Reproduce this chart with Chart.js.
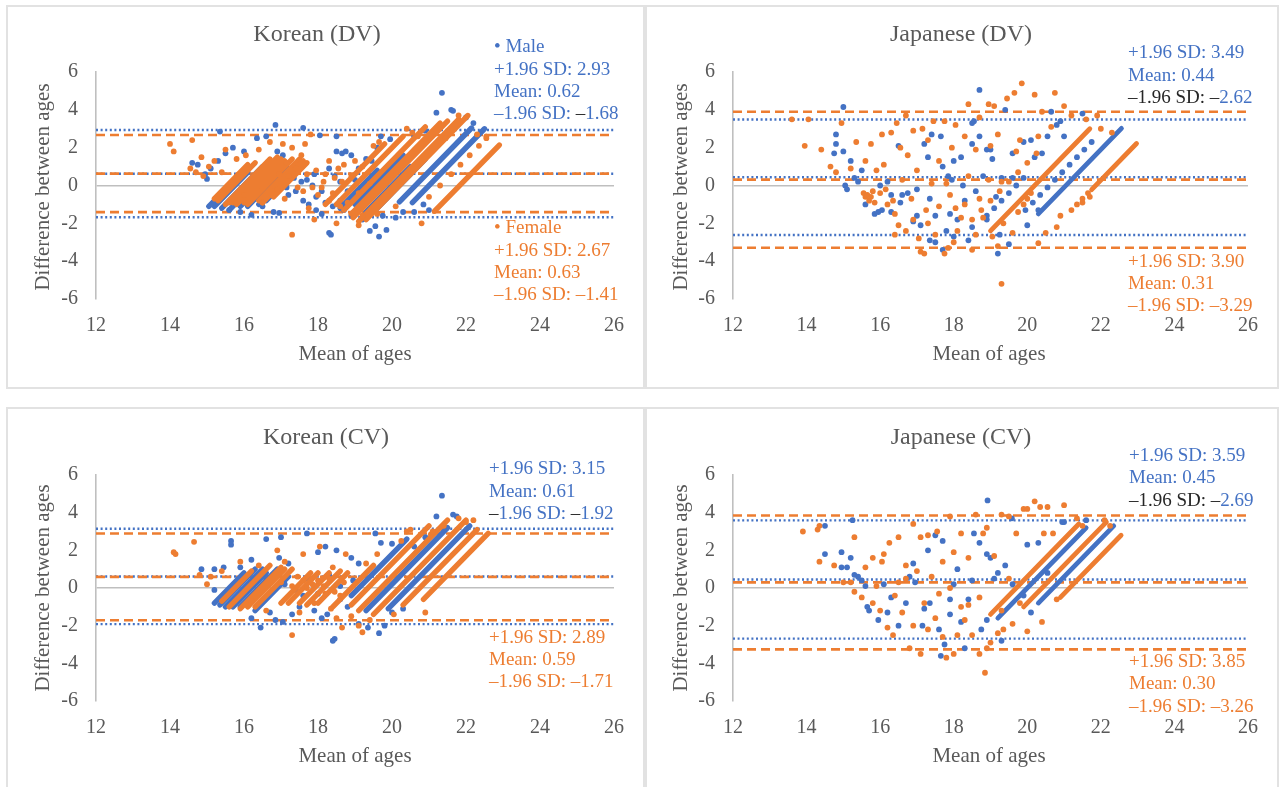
<!DOCTYPE html>
<html>
<head>
<meta charset="utf-8">
<script src="https://cdn.jsdelivr.net/npm/chart.js@4.4.1/dist/chart.umd.min.js"></script>
<style>
  body { margin: 0; background: #fff; width: 1283px; height: 787px; position: relative; overflow: hidden; }
  .panel { position: absolute; border: 2px solid #e2e2e2; box-sizing: border-box; }
  canvas { position: absolute; }
</style>
</head>
<body>
<div class="panel" style="left:6px;top:5px;width:639px;height:384px"></div>
<div class="panel" style="left:645px;top:5px;width:634px;height:384px"></div>
<div class="panel" style="left:6px;top:407px;width:639px;height:382px"></div>
<div class="panel" style="left:645px;top:407px;width:634px;height:382px"></div>
<canvas id="kdv"></canvas>
<canvas id="jdv"></canvas>
<canvas id="kcv"></canvas>
<canvas id="jcv"></canvas>
<script>
// axes
const xTicks = [12, 14, 16, 18, 20, 22, 24, 26];
const yTicks = [-6, -4, -2, 0, 2, 4, 6];

// limits of agreement: [+1.96 SD, mean, -1.96 SD]
const kdvMaleLimits = [2.93, 0.62, -1.68];
const kdvFemaleLimits = [2.67, 0.63, -1.41];
const jdvMaleLimits = [3.49, 0.44, -2.62];
const jdvFemaleLimits = [3.90, 0.31, -3.29];
const kcvMaleLimits = [3.15, 0.61, -1.92];
const kcvFemaleLimits = [2.89, 0.59, -1.71];
const jcvMaleLimits = [3.59, 0.45, -2.69];
const jcvFemaleLimits = [3.85, 0.30, -3.26];

// dense runs of overlapping points [x1, y1, x2, y2]
const kdvMaleRuns = [
  [20.55, -0.9, 22.5, 3.0], [20.2, -0.86, 22.15, 3.04], [19.55, -1.3, 20.9, 1.4], [19.0, -1.0, 20.3, 1.6],
  [19.3, -1.4, 20.5, 1.0], [18.6, -1.2, 19.6, 0.8],
  [15.05, -1.1, 15.9, 0.6], [15.4, -1.2, 16.5, 1.0], [15.9, -1.1, 16.9, 0.9], [16.4, -1.0, 17.3, 0.8],
  [15.2, -1.1, 16.1, 0.7], [15.6, -1.3, 16.7, 0.9], [16.1, -1.1, 17.1, 0.9], [16.6, -0.8, 17.4, 0.8]
];
const kdvFemaleRuns = [
  [21.15, -1.36, 22.9, 2.14], [19.3, -1.8, 22.05, 3.7], [18.95, -1.7, 21.5, 3.4], [18.7, -1.3, 20.9, 3.1],
  [18.5, -1.0, 20.3, 2.6], [18.2, -1.0, 19.8, 2.2], [19.1, -1.9, 21.8, 3.5], [18.9, -1.5, 21.3, 3.3],
  [15.3, -0.8, 16.3, 1.2], [15.5, -1.0, 16.7, 1.4], [15.8, -1.0, 17.0, 1.4], [16.1, -1.0, 17.3, 1.4],
  [16.5, -0.9, 17.6, 1.3], [15.2, -0.7, 16.1, 1.1], [15.7, -0.9, 16.9, 1.5], [16.0, -0.9, 17.1, 1.3],
  [16.4, -0.8, 17.5, 1.4], [16.8, -0.6, 17.7, 1.2]
];
const jdvMaleRuns = [[20.3, -1.5, 22.56, 3.02]];
const jdvFemaleRuns = [[21.75, -0.22, 22.97, 2.22], [19.0, -2.4, 21.7, 3.0]];
const kcvMaleRuns = [
  [19.9, -1.1, 22.1, 3.3], [19.3, -1.2, 21.5, 3.2], [18.9, -0.4, 20.4, 2.6],
  [15.2, -0.8, 16.0, 0.8], [15.5, -1.0, 16.5, 1.0], [15.9, -1.0, 16.9, 1.0],
  [15.35, -0.9, 16.3, 1.0], [15.7, -1.0, 16.6, 0.8], [16.3, -1.2, 17.2, 0.6]
];
const kcvFemaleRuns = [
  [20.85, -0.6, 22.6, 2.9], [20.3, -0.9, 22.3, 3.1], [19.5, -1.4, 22.0, 3.6], [19.1, -1.2, 21.5, 3.6],
  [18.9, -0.9, 21.0, 3.3], [15.4, -0.7, 16.2, 0.9], [15.6, -1.0, 16.7, 1.2], [15.9, -1.1, 17.0, 1.1],
  [16.3, -1.0, 17.3, 1.0], [17.0, -0.8, 17.8, 0.8], [17.5, -0.8, 18.3, 0.8], [18.0, -0.8, 18.8, 0.8],
  [17.2, -0.8, 18.0, 0.8], [17.7, -0.9, 18.6, 0.9], [18.4, -1.0, 19.5, 1.2], [16.1, -1.0, 17.1, 1.0]
];
const jcvMaleRuns = [[20.3, -0.8, 22.35, 3.3], [19.2, -1.6, 21.6, 3.2]];
const jcvFemaleRuns = [[20.9, -0.5, 22.55, 2.8], [19.9, -1.0, 22.15, 3.5], [19.0, -1.4, 21.4, 3.4]];

// single points [mean of ages, difference]
const kdvMale = [
  [15.35, 2.85], [16.85, 3.2], [17.6, 3.05], [18.05, 2.65], [18.5, 2.6], [19.7, 2.6], [19.95, 2.45], [20.9, 2.9],
  [21.2, 3.85], [21.35, 4.9], [21.6, 4.0], [21.65, 3.95], [22.0, 3.6], [22.2, 3.3], [20.6, 2.6],
  [14.6, 1.2], [14.75, 1.1], [14.95, 0.6], [15.0, 0.35], [15.1, 0.9], [15.3, 1.3], [15.5, 1.7], [15.7, 2.0],
  [16.0, 1.8], [16.35, 2.5], [16.6, 2.6], [16.9, 1.8], [17.05, 1.6], [17.2, 0.9], [17.35, 0.4], [17.5, 1.0],
  [17.7, 0.3], [17.85, 0.0], [17.9, 0.6], [18.1, -0.3], [18.3, 0.9], [18.5, 1.8], [18.65, 1.7], [18.75, 1.8],
  [18.9, 1.6], [18.6, 0.2], [18.8, -0.3], [19.1, 0.9], [19.3, 1.4], [19.45, 1.3], [19.6, 2.0],
  [15.6, -1.3], [15.9, -1.4], [16.2, -1.55], [16.5, -1.1], [16.8, -1.4], [16.95, -1.45], [17.2, -0.5],
  [17.4, -0.3], [17.6, -0.8], [17.75, -1.0], [17.95, -1.3], [18.1, -1.5], [18.35, -2.6], [18.3, -2.5],
  [18.4, -1.1], [18.6, -0.8], [18.9, -1.6], [19.1, -1.2], [19.4, -2.4], [19.55, -2.15], [19.65, -2.7],
  [19.85, -2.35], [19.75, -1.6], [20.1, -1.7], [20.3, -1.4], [20.6, -1.4], [20.85, -1.0], [21.0, -1.3], [19.2, -1.8],
  [17.0, 0.4], [17.15, -0.1], [17.55, 0.2], [17.95, -0.6], [18.2, -0.9], [18.45, 0.5], [18.7, -1.3], [19.0, 0.3],
  [19.3, -0.3], [15.8, 0.2], [16.1, -0.6], [16.7, 0.0]
];
const kdvFemale = [
  [14.0, 2.2], [14.1, 1.8], [14.6, 2.4], [14.55, 0.9], [14.7, 0.7], [14.85, 1.5], [14.9, 0.5], [15.05, 1.0],
  [15.2, 1.3], [15.4, 0.7], [15.5, 1.9], [15.8, 1.4], [16.05, 1.6], [16.4, 1.9], [16.7, 2.3], [17.05, 2.2],
  [17.3, 2.0], [17.55, 1.6], [17.65, 2.2], [17.8, 2.7], [17.95, 0.8], [18.2, 0.6], [18.3, 1.3], [18.45, 0.4],
  [18.55, 0.9], [18.7, 1.1], [19.0, 1.3], [19.2, 1.0], [19.5, 2.1], [19.65, 2.3], [20.4, 3.0], [20.55, 2.8],
  [20.7, 2.6], [21.45, 2.5], [21.8, 3.7], [22.3, 2.7], [22.55, 2.6],
  [15.6, -0.9], [16.0, -0.5], [16.5, -0.9], [16.9, -0.2], [17.1, -0.7], [17.3, -2.6], [17.45, -0.1],
  [17.6, -0.3], [17.75, -1.2], [17.9, -1.8], [18.0, -0.5], [18.15, 0.2], [18.3, -0.8], [18.5, -2.0],
  [18.6, -1.1], [18.8, -0.9], [19.1, -2.1], [19.2, -1.6], [19.6, -1.5], [20.1, -1.1], [20.8, -2.0],
  [21.0, -0.6], [21.3, 0.0], [21.6, 0.6], [21.85, 1.1], [22.1, 1.6], [22.35, 2.1], [22.55, 2.5],
  [17.2, 0.5], [17.4, 0.9], [17.7, 0.6], [17.85, -0.1], [18.1, -0.1], [18.4, -0.4], [18.65, 0.2], [18.9, 0.5],
  [19.1, -0.4], [19.4, 0.1], [17.15, 1.2], [16.95, 0.6]
];
const jdvMale = [
  [15.0, 4.15], [18.7, 5.05], [19.4, 4.0], [21.5, 3.8], [20.65, 3.9], [14.8, 2.7], [14.8, 2.2], [14.75, 1.7],
  [15.0, 1.8], [15.2, 1.3], [15.05, 0.0], [15.1, -0.2], [15.3, 0.4], [15.4, 0.2], [15.5, 0.8], [15.6, -1.0],
  [15.85, -1.5], [15.95, -1.4], [16.05, -1.3], [16.2, 0.2], [16.3, -0.5], [16.5, 2.1], [16.6, -0.5],
  [16.75, -0.4], [17.0, -0.2], [17.2, 2.2], [17.3, 1.5], [17.35, -0.7], [17.5, -1.6], [17.4, 2.7],
  [17.65, 2.6], [17.7, 1.0], [17.5, -3.0], [17.7, -3.4], [17.8, -2.4], [17.9, -1.5], [18.0, 1.3],
  [18.1, -1.8], [18.2, 1.5], [18.3, -0.8], [18.4, -2.9], [18.5, 3.3], [18.55, 3.4], [18.5, 2.2], [18.7, 2.6],
  [18.9, 1.9], [19.0, 1.9], [18.9, -1.8], [19.05, 1.4], [19.2, -3.6], [19.3, 0.4], [19.5, -3.1], [19.25, -2.6],
  [19.6, 1.7], [19.9, 2.3], [20.1, 2.4], [20.0, -2.1], [20.2, 1.5], [20.4, 1.7], [20.55, 2.6], [20.8, 3.2],
  [20.9, 3.4], [21.0, 2.6], [16.9, -1.9], [17.0, -1.6], [16.3, -1.4], [16.0, 0.0], [17.85, 0.5], [18.25, 0.0],
  [18.6, -0.3], [18.8, 0.5], [19.15, -0.6], [19.6, 0.4], [20.3, -1.3], [17.1, -2.1], [17.35, -2.9],
  [18.5, -2.2], [18.0, -2.7], [16.55, -0.9], [17.95, 0.3],
  [19.95, -1.3], [20.15, -0.9], [20.35, -0.5], [20.55, -0.1], [20.75, 0.3], [20.95, 0.7], [21.15, 1.1],
  [21.35, 1.5], [21.55, 1.9], [21.75, 2.3],
  [18.9, -1.6], [19.1, -1.2], [19.3, -0.8], [19.5, -0.4], [19.7, 0.0], [19.9, 0.4]
];
const jdvFemale = [
  [13.6, 3.5], [14.05, 3.5], [13.95, 2.1], [14.4, 1.9], [14.65, 1.0], [14.8, 0.7], [14.95, 3.3], [15.35, 2.3],
  [15.6, 1.3], [15.75, 2.2], [15.9, 0.8], [16.05, 2.7], [16.1, 1.1], [16.3, 2.8], [16.45, 3.3], [16.55, 2.0],
  [16.7, 3.7], [16.75, 1.6], [16.9, 2.9], [17.15, 3.0], [17.3, 2.4], [17.45, 3.4], [17.6, 1.3], [17.75, 3.4],
  [17.95, 2.0], [18.05, 3.2], [18.3, 2.6], [18.4, 4.3], [18.6, 1.9], [18.7, 3.6], [18.95, 4.3], [19.1, 4.2],
  [19.2, 2.7], [19.45, 4.6], [19.65, 4.9], [19.85, 5.4], [20.2, 4.8], [20.75, 4.9], [21.0, 4.2], [20.4, 3.9],
  [20.65, 3.1], [20.3, 2.6], [19.8, 2.4], [19.7, 1.8], [19.0, 2.1], [21.2, 3.7], [21.6, 3.5], [21.9, 3.7],
  [22.0, 3.0], [22.3, 2.8],
  [15.6, -0.6], [15.7, -0.8], [15.8, -0.3], [16.0, -0.4], [16.2, -1.0], [16.4, -1.5], [16.5, -2.1],
  [16.7, -2.4], [16.4, -2.6], [16.9, -1.8], [17.05, -2.8], [17.1, -3.5], [17.2, -3.6], [17.3, -2.0],
  [17.5, -2.6], [17.6, -1.1], [17.75, -3.6], [17.85, -3.3], [18.0, -3.0], [18.1, -2.4], [18.2, -1.7],
  [18.3, -1.0], [18.5, -3.4], [18.6, -2.6], [18.8, -1.7], [19.05, -2.7], [19.2, -3.2], [19.3, -5.2],
  [19.35, -2.0], [19.6, -2.5], [19.75, -1.4], [19.9, -1.0], [20.1, -0.4], [20.3, -3.05], [20.5, -2.5],
  [20.8, -2.2], [20.9, -1.6], [21.5, -0.9], [21.7, -0.6], [16.6, 0.3], [17.0, 0.8], [17.4, 0.1], [17.9, -0.5],
  [18.4, 0.5], [18.95, 0.3], [19.3, 0.2], [20.0, -0.7], [15.2, 0.9],
  [15.55, -0.4], [15.65, -0.5], [15.75, -0.6], [15.85, -0.9], [16.15, -0.2], [16.35, -0.8], [17.8, 0.1],
  [18.05, -1.2], [18.7, -0.7], [17.25, -1.3], [16.85, -0.7],
  [21.2, -1.3], [21.35, -1.0], [21.5, -0.7], [21.65, -0.4],
  [18.5, -1.8], [18.75, -1.3], [19.0, -0.8], [19.25, -0.3], [19.5, 0.2], [19.75, 0.7], [20.0, 1.2], [20.25, 1.7]
];
const kcvMale = [
  [21.35, 4.9], [21.2, 3.8], [21.65, 3.9], [21.75, 3.8], [17.7, 2.9], [19.55, 2.9], [16.6, 2.6], [15.65, 2.5],
  [15.65, 2.3], [17.0, 2.7], [20.0, 2.35], [19.7, 2.4], [18.2, 2.2], [18.5, 2.0], [18.0, 1.9], [18.9, 1.6],
  [19.1, 1.3], [16.2, 1.5], [16.95, 1.6], [17.2, 1.3], [14.85, 1.0], [15.2, 1.0], [15.45, 1.1], [15.9, 1.1],
  [16.5, 0.6], [17.7, 0.5], [18.3, 0.7], [18.6, 0.1],
  [16.2, -1.6], [16.45, -2.1], [16.7, -1.3], [16.85, -1.7], [17.05, -1.8], [17.3, -1.4], [17.5, -1.0],
  [17.9, -1.2], [18.1, -1.6], [18.25, -1.4], [18.45, -2.7], [18.4, -2.8], [18.8, -1.0], [19.1, -1.9],
  [19.35, -2.1], [19.65, -2.4], [19.8, -2.0], [20.0, -1.3], [20.3, -1.1], [17.6, -0.4], [18.6, -0.6],
  [15.2, -0.1], [15.4, -0.5], [17.1, 0.2], [17.4, -0.1], [18.0, -0.3], [18.95, 0.4], [20.6, 2.2], [20.9, 2.7],
  [21.1, 2.9], [21.4, 3.1]
];
const kcvFemale = [
  [14.1, 1.9], [14.15, 1.8], [14.65, 2.45], [14.8, 0.7], [15.0, 0.2], [15.1, 0.6], [15.4, 0.9], [15.9, 1.4],
  [16.4, 1.2], [16.9, 2.0], [17.1, 1.4], [17.6, 1.8], [18.05, 2.2], [18.4, 1.1], [18.75, 1.8], [19.3, 1.3],
  [19.6, 1.8], [20.4, 3.0], [20.5, 3.1], [20.25, 2.5], [21.05, 2.85], [21.1, 3.0], [21.4, 3.3], [21.8, 3.7],
  [22.0, 3.5], [22.2, 3.6],
  [17.3, -2.5], [17.5, -1.3], [17.9, -0.8], [18.2, -0.3], [18.35, -1.1], [18.5, -1.6], [18.65, -2.1],
  [18.9, -1.5], [19.1, -2.0], [19.2, -2.35], [19.4, -1.7], [20.05, -1.4], [20.9, -1.3], [17.0, 0.3],
  [17.3, 0.1], [17.7, 0.0], [18.0, 0.4], [18.7, 0.3], [16.2, -0.7], [16.6, -1.2], [17.6, 0.4], [17.85, 0.2],
  [18.15, 0.1], [18.45, -0.2], [17.45, 0.6], [18.3, 0.5], [18.6, -0.4]
];
const jcvMale = [
  [18.92, 4.65], [19.58, 3.7], [20.95, 3.5], [21.0, 3.5], [21.6, 3.6], [14.5, 3.3], [15.25, 3.6], [14.5, 1.8],
  [14.95, 1.9], [15.2, 1.6], [14.95, 1.1], [15.1, 1.1], [15.3, 0.7], [15.5, 0.4], [15.6, 0.1], [15.65, -1.0],
  [15.7, -1.2], [15.95, -1.7], [16.2, -1.3], [16.3, -0.5], [16.5, -2.0], [16.7, -0.8], [16.8, 0.6],
  [16.9, 1.3], [17.15, -2.0], [17.3, 2.0], [17.5, 2.8], [17.7, 2.5], [17.35, -0.8], [17.6, -2.2],
  [17.75, -3.0], [17.9, -1.4], [17.65, -3.6], [18.0, 0.2], [18.1, 1.0], [18.2, -1.8], [18.3, -3.2],
  [18.4, -0.6], [18.55, 2.9], [18.7, 2.4], [18.75, -2.2], [18.9, 1.8], [19.0, 1.6], [19.1, 0.5], [19.3, -2.8],
  [19.4, 1.2], [19.6, 0.2], [19.9, -0.4], [20.0, 2.3], [20.1, -1.3], [20.3, 2.4], [20.55, 0.8], [17.9, -0.6],
  [16.95, 0.3], [18.5, 0.4], [15.4, 0.6], [16.1, 0.2], [17.2, -1.1], [18.9, -1.7], [19.2, 0.8]
];
const jcvFemale = [
  [13.9, 3.0], [14.3, 3.1], [14.35, 3.3], [14.35, 1.4], [14.75, 1.2], [15.0, 0.3], [15.2, 0.3], [15.3, 2.7],
  [15.6, 1.1], [15.8, 1.6], [16.05, 1.4], [16.1, 1.8], [16.25, 2.4], [16.5, 2.7], [16.7, 1.2], [16.9, 3.4],
  [17.0, 0.9], [17.1, 2.7], [17.3, 2.8], [17.55, 3.0], [17.7, 1.4], [17.9, 3.8], [18.0, 1.9], [18.2, 2.9],
  [18.4, 1.6], [18.6, 3.9], [18.8, 2.9], [18.9, 3.2], [19.1, 1.7], [19.3, 3.9], [19.5, 3.8], [19.7, 2.9],
  [19.9, 4.2], [20.0, 4.2], [20.2, 4.6], [20.35, 4.3], [20.55, 4.3], [20.45, 2.9], [21.0, 4.4], [20.7, 2.9],
  [21.35, 3.7], [21.5, 3.3], [22.1, 3.6], [22.25, 3.3],
  [15.3, -0.2], [15.5, -0.5], [15.8, -0.8], [16.0, -1.2], [16.2, -2.1], [16.35, -2.5], [16.6, -1.3],
  [16.8, -3.2], [16.9, -2.0], [17.1, -3.5], [17.3, -2.2], [17.5, -1.6], [17.7, -2.6], [17.8, -3.7],
  [18.0, -3.5], [18.1, -2.5], [18.3, -1.7], [18.5, -2.5], [18.7, -3.5], [18.85, -4.5], [18.9, -3.2],
  [19.0, -2.9], [19.2, -2.4], [19.35, -2.2], [19.6, -1.9], [20.0, -2.3], [20.4, -1.8], [20.8, -0.6],
  [16.5, 0.3], [17.2, -0.8], [17.9, 0.0], [18.7, -0.5], [19.5, 0.5], [19.8, -0.8], [15.9, 0.1], [16.4, -0.4],
  [17.6, -0.3], [18.2, -1.0], [18.4, -0.9], [19.3, -1.2], [16.7, 0.5], [17.4, 0.6]
];

const BLUE = '#4472C4';
const ORANGE = '#ED7D31';
const DARK = '#262626';
const GREY = '#595959';
const AXIS = '#bfbfbf';
const SERIF = '"Liberation Serif", "Times New Roman", serif';

function num(v) {
  return (v < 0 ? '\u2013' : '') + Math.abs(v).toFixed(2);
}

function noteLines(limits, color, header, lowerStyle) {
  const lines = [];
  if (header) lines.push([['\u2022 ' + header, color]]);
  lines.push([['+1.96 SD: ' + num(limits[0]), color]]);
  lines.push([['Mean: ' + num(limits[1]), color]]);
  const v = Math.abs(limits[2]).toFixed(2);
  if (lowerStyle === 'a') lines.push([['\u20131.96 SD: ', color], ['\u2013', DARK], [v, color]]);
  else if (lowerStyle === 'b') lines.push([['\u20131.96 SD: \u2013', DARK], [v, color]]);
  else if (lowerStyle === 'c') lines.push([['\u2013', DARK], ['1.96 SD: ', color], ['\u2013', DARK], [v, color]]);
  else lines.push([['\u20131.96 SD: \u2013' + v, color]]);
  return lines;
}

const panelText = {
  id: 'panelText',
  afterDraw(chart, args, o) {
    const ctx = chart.ctx;
    ctx.save();
    ctx.textBaseline = 'middle';
    ctx.fillStyle = GREY;
    ctx.textAlign = 'center';
    ctx.font = '24px ' + SERIF;
    ctx.fillText(o.title, o.titleAt[0], o.titleAt[1]);
    ctx.font = '21px ' + SERIF;
    ctx.fillText('Mean of ages', o.xTitleAt[0], o.xTitleAt[1]);
    ctx.save();
    ctx.translate(o.yTitleAt[0], o.yTitleAt[1]);
    ctx.rotate(-Math.PI / 2);
    ctx.fillText('Difference between ages', 0, 0);
    ctx.restore();
    ctx.textAlign = 'left';
    ctx.font = '19px ' + SERIF;
    o.notes.forEach((block) => {
      block.lines.forEach((segs, i) => {
        let x = o.noteX;
        segs.forEach(([t, c]) => {
          ctx.fillStyle = c;
          ctx.fillText(t, x, block.ys[i]);
          x += ctx.measureText(t).width;
        });
      });
    });
    ctx.restore();
  }
};

function limitSets(limits, color, dash, width, order) {
  return limits.map((v) => ({
    data: [{ x: xTicks[0], y: v }, { x: xTicks[xTicks.length - 1], y: v }],
    showLine: true, pointRadius: 0, borderColor: color, borderWidth: width,
    borderDash: dash, fill: false, order: order
  }));
}

function runSets(runs, color, width, order) {
  return runs.map((r) => ({
    data: [{ x: r[0], y: r[1] }, { x: r[2], y: r[3] }],
    showLine: true, pointRadius: 0, borderColor: color, borderWidth: width,
    borderCapStyle: 'round', fill: false, order: order
  }));
}

function pointSet(pts, color, order) {
  return {
    data: pts.map((p) => ({ x: p[0], y: p[1] })),
    showLine: false, pointRadius: 2.9, pointBorderWidth: 0,
    pointBackgroundColor: color, backgroundColor: color, order: order
  };
}

function makeChart(p) {
  const cv = document.getElementById(p.id);
  cv.width = p.w;
  cv.height = p.h;
  cv.style.left = p.left + 'px';
  cv.style.top = p.top + 'px';
  const datasets = [].concat(
    limitSets(p.maleLimits, BLUE, [2, 2.6], 2.4, 6),
    limitSets(p.femaleLimits, ORANGE, [9, 5], 2.6, 5),
    runSets(p.maleRuns, BLUE, p.runWidth, 4),
    [pointSet(p.male, BLUE, 3)],
    runSets(p.femaleRuns, ORANGE, p.runWidth, 2),
    [pointSet(p.female, ORANGE, 1)]
  );
  new Chart(cv, {
    type: 'scatter',
    data: { datasets: datasets },
    options: {
      responsive: false,
      animation: false,
      events: [],
      layout: { padding: { left: 0, top: p.area.t, right: p.w - p.area.r, bottom: 0 } },
      scales: {
        x: {
          type: 'linear', min: 12, max: 26,
          afterBuildTicks: (s) => { s.ticks = xTicks.map((v) => ({ value: v })); },
          afterFit: (s) => { s.height = p.h - p.area.b; },
          grid: { display: false, drawTicks: false },
          border: { display: false },
          ticks: { color: GREY, padding: 15, font: { family: SERIF, size: 20 } }
        },
        y: {
          type: 'linear', min: -6, max: 6,
          afterBuildTicks: (s) => { s.ticks = yTicks.map((v) => ({ value: v })); },
          afterFit: (s) => { s.width = p.area.l; },
          grid: {
            display: true, drawTicks: false, lineWidth: 1.6,
            color: (c) => (c.tick && c.tick.value === 0 ? AXIS : 'rgba(0,0,0,0)')
          },
          border: { display: true, color: AXIS, width: 1.6 },
          ticks: { color: GREY, padding: 18, font: { family: SERIF, size: 20 } }
        }
      },
      plugins: {
        legend: { display: false },
        tooltip: { enabled: false },
        panelText: p.text
      }
    },
    plugins: [panelText]
  });
}

makeChart({
  id: 'kdv', left: 7, top: 6, w: 637, h: 382, area: { l: 89, r: 607, t: 66, b: 293 }, runWidth: 5.4,
  maleLimits: kdvMaleLimits, femaleLimits: kdvFemaleLimits,
  maleRuns: kdvMaleRuns, femaleRuns: kdvFemaleRuns, male: kdvMale, female: kdvFemale,
  text: {
    title: 'Korean (DV)', titleAt: [310, 29], xTitleAt: [348, 348], yTitleAt: [36, 181], noteX: 487,
    notes: [
      { lines: noteLines(kdvMaleLimits, BLUE, 'Male', 'a'), ys: [41, 64, 86, 108] },
      { lines: noteLines(kdvFemaleLimits, ORANGE, 'Female'), ys: [222, 245, 267, 289] }
    ]
  }
});

makeChart({
  id: 'jdv', left: 645, top: 6, w: 633, h: 382, area: { l: 88, r: 603, t: 66, b: 293 }, runWidth: 4.8,
  maleLimits: jdvMaleLimits, femaleLimits: jdvFemaleLimits,
  maleRuns: jdvMaleRuns, femaleRuns: jdvFemaleRuns, male: jdvMale, female: jdvFemale,
  text: {
    title: 'Japanese (DV)', titleAt: [316, 29], xTitleAt: [344, 348], yTitleAt: [36, 181], noteX: 483,
    notes: [
      { lines: noteLines(jdvMaleLimits, BLUE, null, 'b'), ys: [47, 70, 92] },
      { lines: noteLines(jdvFemaleLimits, ORANGE, null), ys: [256, 278, 300] }
    ]
  }
});

makeChart({
  id: 'kcv', left: 7, top: 408, w: 637, h: 379, area: { l: 89, r: 607, t: 67, b: 293 }, runWidth: 5.4,
  maleLimits: kcvMaleLimits, femaleLimits: kcvFemaleLimits,
  maleRuns: kcvMaleRuns, femaleRuns: kcvFemaleRuns, male: kcvMale, female: kcvFemale,
  text: {
    title: 'Korean (CV)', titleAt: [319, 30], xTitleAt: [348, 348], yTitleAt: [36, 180], noteX: 482,
    notes: [
      { lines: noteLines(kcvMaleLimits, BLUE, null, 'c'), ys: [61, 84, 106] },
      { lines: noteLines(kcvFemaleLimits, ORANGE, null), ys: [230, 252, 274] }
    ]
  }
});

makeChart({
  id: 'jcv', left: 645, top: 408, w: 633, h: 379, area: { l: 88, r: 603, t: 67, b: 293 }, runWidth: 4.8,
  maleLimits: jcvMaleLimits, femaleLimits: jcvFemaleLimits,
  maleRuns: jcvMaleRuns, femaleRuns: jcvFemaleRuns, male: jcvMale, female: jcvFemale,
  text: {
    title: 'Japanese (CV)', titleAt: [316, 30], xTitleAt: [344, 348], yTitleAt: [36, 180], noteX: 484,
    notes: [
      { lines: noteLines(jcvMaleLimits, BLUE, null, 'b'), ys: [48, 70, 93] },
      { lines: noteLines(jcvFemaleLimits, ORANGE, null), ys: [254, 276, 299] }
    ]
  }
});
</script>
</body>
</html>
